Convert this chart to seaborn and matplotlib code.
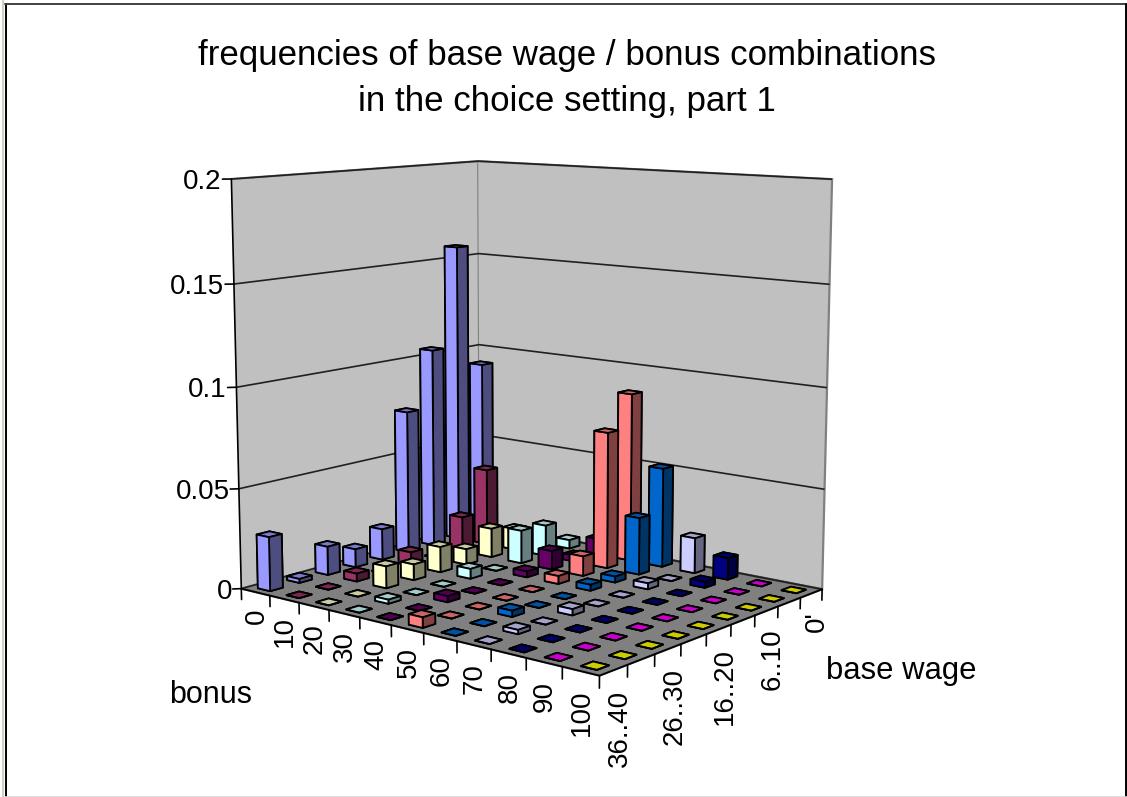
import numpy as np
import matplotlib
matplotlib.use("Agg")
import matplotlib.pyplot as plt
from matplotlib.lines import Line2D
from matplotlib.transforms import offset_copy
import seaborn as sns

# Category labels along the two floor axes
bonus_labels = ["0", "10", "20", "30", "40", "50", "60", "70", "80", "90", "100"]
wage_labels = ["36..40", "", "26..30", "", "16..20", "", "6..10", "", "0'"]
freq_ticks = [0, 0.05, 0.1, 0.15, 0.2]
freq_tick_labels = ["0", "0.05", "0.1", "0.15", "0.2"]

# Relative frequency per bonus level, base wage running 36..40 down to 0'
bonus_0 = [0.027, 0.002, 0.0145, 0.0093, 0.016, 0.0745, 0.1045, 0.157, 0.092]
bonus_10 = [0, 0, 0.004, 0, 0.007, 0, 0.018, 0.04, 0]
bonus_20 = [0, 0, 0.011, 0.008, 0.013, 0.008, 0.015, 0.011, 0]
bonus_30 = [0, 0.002, 0, 0, 0.005, 0, 0.017, 0.016, 0.0045]
bonus_40 = [0, 0, 0.003, 0, 0, 0.003, 0.0095, 0.003, 0.008]
bonus_50 = [0.005, 0, 0, 0, 0, 0.004, 0.01, 0.07, 0.087]
bonus_60 = [0, 0, 0.003, 0, 0, 0.003, 0.003, 0.029, 0.051]
bonus_70 = [0, 0.002, 0, 0.003, 0, 0, 0.003, 0, 0.018]
bonus_80 = [0, 0, 0, 0, 0, 0, 0, 0.003, 0.011]
bonus_90 = [0, 0, 0, 0, 0, 0, 0, 0, 0]
bonus_100 = [0, 0, 0, 0, 0, 0, 0, 0, 0]
series = [bonus_0, bonus_10, bonus_20, bonus_30, bonus_40, bonus_50,
          bonus_60, bonus_70, bonus_80, bonus_90, bonus_100]

series_colors = ["#9999FF", "#993366", "#FFFFCC", "#CCFFFF", "#660066", "#FF8080",
                 "#0066CC", "#CCCCFF", "#000080", "#FF00FF", "#FFFF00"]

WIDTH, HEIGHT = 1127, 797
BAR_WIDTH = 0.43
TICK_DROP = 0.0055
FONT = "Liberation Sans"

sns.set_theme(style="white", font=FONT)
palette = sns.color_palette(series_colors)

fig = plt.figure(figsize=(WIDTH / 100, HEIGHT / 100), dpi=100, facecolor="white")
ax = fig.add_axes([0.1522, 0.0621, 0.6221, 0.8797], projection="3d")
ax.patch.set_visible(False)
ax.computed_zorder = False
ax.view_init(elev=9.6874, azim=-50.7204)
ax.set_proj_type("persp", focal_length=0.5488)
ax.set_box_aspect((1, 0.8112, 0.9062))
ax.set_xlim(0, len(bonus_labels), view_margin=0)
ax.set_ylim(0, len(wage_labels), view_margin=0)
ax.set_zlim(0, 0.2, view_margin=0)

# Walls and floor
for axis, face, edge in ((ax.xaxis, "#C0C0C0", "#808080"),
                         (ax.yaxis, "#C0C0C0", "#808080"),
                         (ax.zaxis, "#808080", "#555555")):
    axis.set_pane_color(face)
    axis.pane.set_edgecolor(edge)
    axis.pane.set_linewidth(1.6)
    axis.line.set_color("black")
    axis.line.set_linewidth(1.2)
    axis._axinfo["tick"]["linewidth"] = {True: 0, False: 0}

ax.grid(True)
ax.xaxis._axinfo["grid"]["linewidth"] = 0
ax.yaxis._axinfo["grid"]["linewidth"] = 0
ax.zaxis._axinfo["grid"]["linewidth"] = 1.2
ax.zaxis._axinfo["grid"]["color"] = "#202020"

# Tick labels
ax.set_xticks(np.arange(len(bonus_labels)) + 0.5, bonus_labels)
ax.set_yticks(np.arange(len(wage_labels)) + 0.5, wage_labels)
ax.set_zticks(freq_ticks, freq_tick_labels)
ax.zaxis.set_ticks_position("lower")
ax.tick_params(axis="x", labelsize=20, labelcolor="black", labelrotation=90, pad=0)
ax.tick_params(axis="y", labelsize=20, labelcolor="black", labelrotation=90, pad=0)
ax.tick_params(axis="z", labelsize=20, labelcolor="black", pad=-2)
plt.setp(ax.get_xticklabels(), va="top", ha="center")
plt.setp(ax.get_yticklabels(), va="top", ha="center")
plt.setp(ax.get_zticklabels(), va="center", ha="right")


def nudge_tick_labels(axis, dx, dy):
    """Keep an axis's tick labels offset by a few pixels from where mplot3d puts them."""
    shifted = offset_copy(ax.transData, fig, x=dx, y=dy, units="dots")
    original = axis.get_major_ticks

    def get_major_ticks(numticks=None):
        ticks = original(numticks)
        for tick in ticks:
            tick.label1.set_transform(shifted)
        return ticks

    axis.get_major_ticks = get_major_ticks


nudge_tick_labels(ax.xaxis, 9, -2)
nudge_tick_labels(ax.yaxis, -6, -3)
nudge_tick_labels(ax.zaxis, 4, -3)

# Tick marks: straight down under the floor edges, straight left on the height axis
for b in range(len(bonus_labels) + 1):
    ax.plot([b, b], [0, 0], [0, -TICK_DROP], color="black", lw=1.2, zorder=1)
for b in range(1, len(wage_labels) + 1):
    n = len(bonus_labels)
    ax.plot([n, n], [b, b], [0, -TICK_DROP], color="black", lw=1.2, zorder=1)
for z in freq_ticks:
    ax.plot([0, -0.14], [0, -0.155], [z, z], color="black", lw=1.2, zorder=1)

# Bars, painted from the back corner towards the viewer
gap = (1 - BAR_WIDTH) / 2
order = 10
for r, (values, col) in enumerate(zip(series, palette)):
    base = np.array(col)
    top = tuple(base * 0.8)
    side = tuple(base * 0.5)
    front = tuple(base)
    for c in range(len(values) - 1, -1, -1):
        ax.bar3d(r + gap, c + gap, 0, BAR_WIDTH, BAR_WIDTH, values[c],
                 color=[top, top, front, side, side, side],
                 edgecolor="black", linewidth=1.3, shade=False, zorder=order)
        order += 1

# Title, axis captions
fig.text(566.5 / WIDTH, 1 - 56 / HEIGHT, "frequencies of base wage / bonus combinations",
         fontsize=25.15, ha="center", va="center", family=FONT, color="black")
fig.text(567 / WIDTH, 1 - 101 / HEIGHT, "in the choice setting, part 1",
         fontsize=25.15, ha="center", va="center", family=FONT, color="black")
fig.text(211 / WIDTH, 1 - 695 / HEIGHT, "bonus", fontsize=22, ha="center", va="center",
         family=FONT, color="black")
fig.text(901 / WIDTH, 1 - 671 / HEIGHT, "base wage", fontsize=22.3, ha="center", va="center",
         family=FONT, color="black")


# Chart-area frame
def frame_line(x0, y0, x1, y1, color, lw=1.0):
    fig.add_artist(Line2D([x0 / WIDTH, x1 / WIDTH], [1 - y0 / HEIGHT, 1 - y1 / HEIGHT],
                          color=color, lw=lw, transform=fig.transFigure))


frame_line(3.5, 0, 3.5, 797, "#D4D0C8", 1.5)
frame_line(5.5, 3.5, 5.5, 797, "black", 1.4)
frame_line(5, 4, 1127, 4, "#404040", 1.4)
frame_line(1126, 3.5, 1126, 797, "black", 1.4)
frame_line(5, 796.5, 1127, 796.5, "#D8D8D8", 1.2)

fig.savefig("out.png", dpi=100)
